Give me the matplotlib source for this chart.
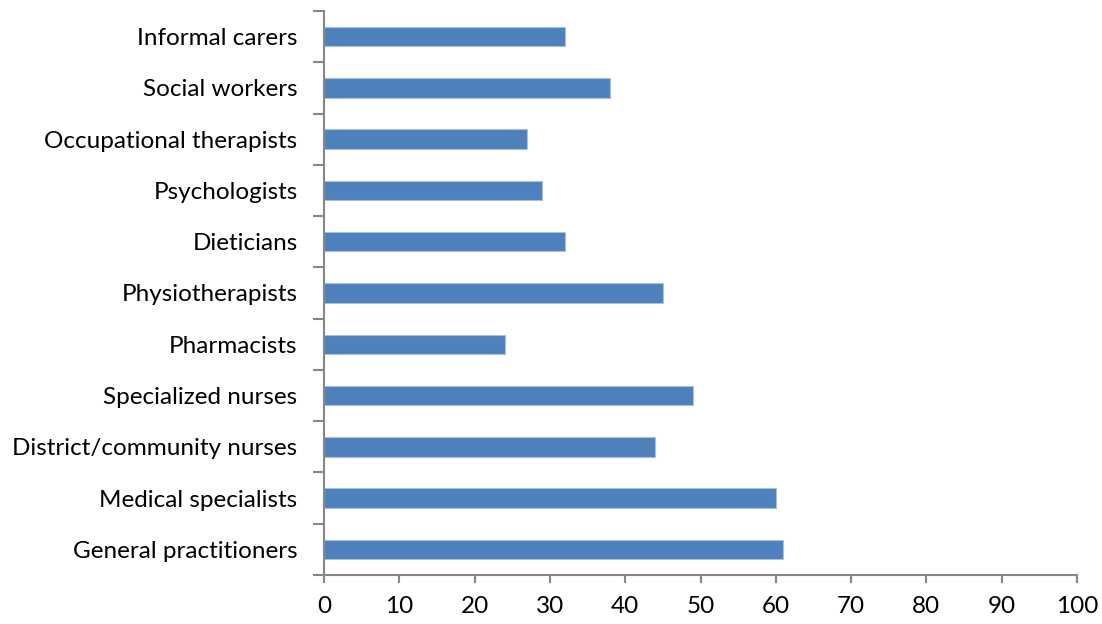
import matplotlib
matplotlib.use("Agg")
import matplotlib.pyplot as plt
import numpy as np

categories = [
    "General practitioners",
    "Medical specialists",
    "District/community nurses",
    "Specialized nurses",
    "Pharmacists",
    "Physiotherapists",
    "Dieticians",
    "Psychologists",
    "Occupational therapists",
    "Social workers",
    "Informal carers",
]
values = [61, 60, 44, 49, 24, 45, 32, 29, 27, 38, 32]
x_ticks = [0, 10, 20, 30, 40, 50, 60, 70, 80, 90, 100]

plt.rcParams["font.family"] = ["Lato", "DejaVu Sans"]

fig = plt.figure(figsize=(11.02, 6.24), dpi=100)
ax = fig.add_axes([324 / 1102, 1 - 575 / 624, (1077 - 324) / 1102, (575 - 11) / 624])

pos = np.arange(len(categories))
ax.barh(pos, values, height=0.38, color="#4F81BD", edgecolor="#A7C0DE", linewidth=0.8)

ax.set_xlim(0, 100)
ax.set_ylim(-0.5, len(categories) - 0.5)
ax.set_xticks(x_ticks)
ax.set_xticklabels([str(t) for t in x_ticks], fontsize=17.5)

# category ticks sit between bars, labels centred on bars
ax.set_yticks(np.arange(-0.5, len(categories), 1.0))
ax.set_yticklabels([])
ax.set_yticks(pos, minor=True)
ax.set_yticklabels(categories, minor=True, fontsize=17.5)
ax.tick_params(axis="y", which="minor", length=0, pad=19)
ax.tick_params(axis="y", which="major", length=8, width=1.5, color="#868686")
ax.tick_params(axis="x", length=6, width=1.5, color="#868686", pad=9)

for side in ("top", "right"):
    ax.spines[side].set_visible(False)
for side in ("left", "bottom"):
    ax.spines[side].set_color("#868686")
    ax.spines[side].set_linewidth(1.5)

fig.savefig("out.png", dpi=100, facecolor="white")
